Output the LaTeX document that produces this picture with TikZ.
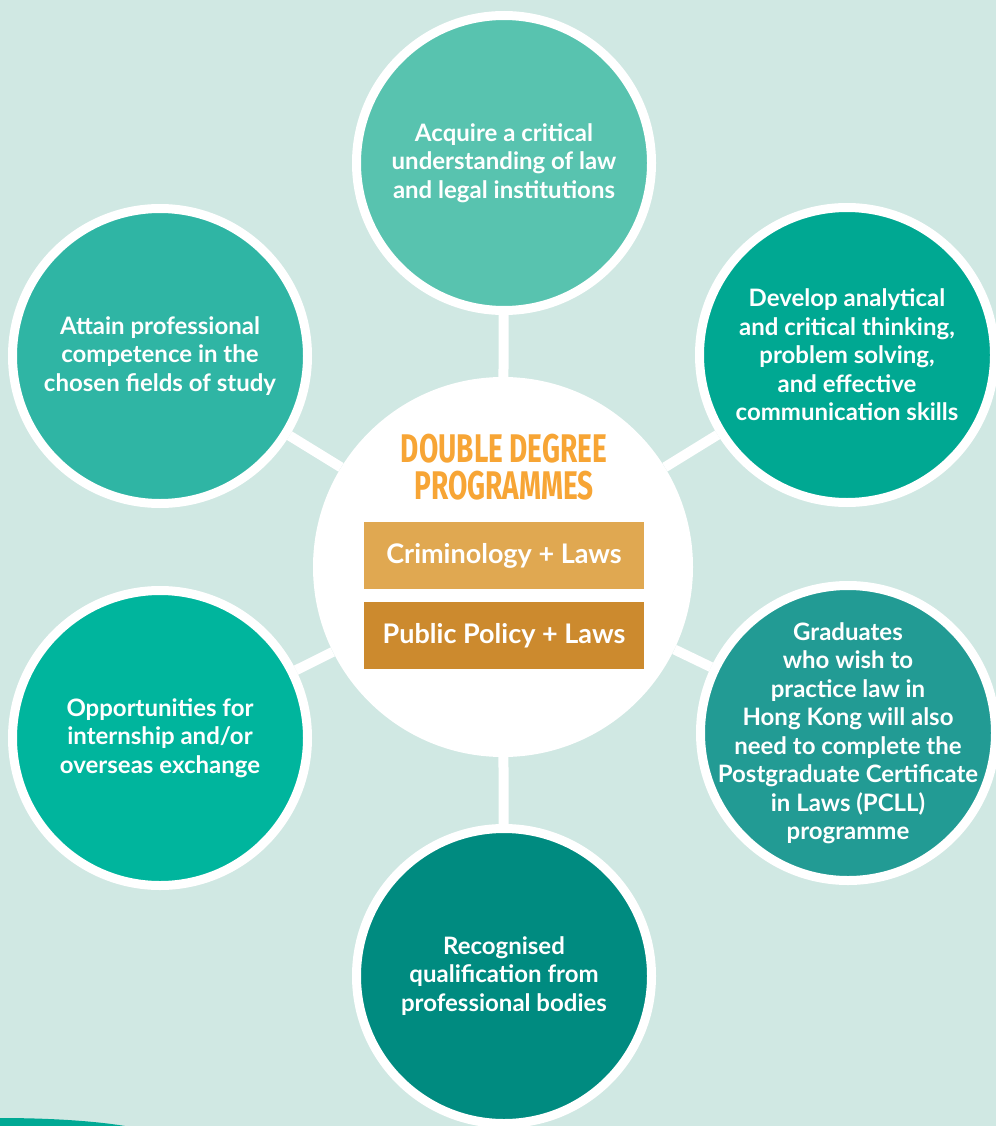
\documentclass[tikz,border=0pt]{standalone}
\usepackage{fontspec}
\setmainfont{Lato}
\newfontfamily\titlefont{Fira Sans}
\definecolor{bgc}{HTML}{D0E8E3}
\definecolor{cTop}{HTML}{58C3AF}
\definecolor{cUL}{HTML}{2FB5A4}
\definecolor{cUR}{HTML}{00A892}
\definecolor{cLL}{HTML}{00B59D}
\definecolor{cLR}{HTML}{229B94}
\definecolor{cBot}{HTML}{008B80}
\definecolor{cTitle}{HTML}{F7A535}
\definecolor{cBoxA}{HTML}{E0A851}
\definecolor{cBoxB}{HTML}{CC8A2E}
\definecolor{cWave}{HTML}{00A994}
\pgfdeclarelayer{bglayer}
\pgfdeclarelayer{linklayer}
\pgfsetlayers{bglayer,linklayer,main}
\begin{document}
\begin{tikzpicture}[x=1pt,y=-1pt,
  bub/.style={circle, draw=white, line width=9pt, minimum size=295pt, inner sep=-60pt,
    text=white, font=\bfseries\fontsize{24}{28.5}\selectfont, align=center},
  hub/.style={circle, fill=white, minimum size=380pt, inner sep=0pt},
  link/.style={draw=white, line width=10pt},
  prog/.style={minimum width=280pt, minimum height=67pt, inner sep=0pt,
    text=white, font=\bfseries\fontsize{27}{30}\selectfont},
  ttl/.style={text=cTitle, font=\titlefont\bfseries\fontsize{40}{37.5}\selectfont, align=center, inner sep=0pt}]
\begin{pgfonlayer}{bglayer}
  \fill[bgc] (0,0) rectangle (996,1126);
  \fill[cWave] (0,1118) .. controls (50,1118) and (95,1121) .. (125,1126) -- (0,1126) -- cycle;
\end{pgfonlayer}
\useasboundingbox (0,0) rectangle (996,1126);

\node[hub] (ctr) at (503,567) {};
\node[bub, fill=cTop] (top) at (504,163) {Acquire a critical\\understanding of law\\and legal institutions};
\node[bub, fill=cUL] (ul) at (160,356) {Attain professional\\competence in the\\chosen fields of study};
\node[bub, fill=cUR] (ur) at (847,355) {Develop analytical\\and critical thinking,\\problem solving,\\and effective\\communication skills};
\node[bub, fill=cLL] (ll) at (160,738) {Opportunities for\\internship and/or\\overseas exchange};
\node[bub, fill=cLR] (lr) at (848,733) {Graduates\\who wish to\\practice law in\\Hong Kong will also\\need to complete the\\Postgraduate Certificate\\in Laws (PCLL)\\programme};
\node[bub, fill=cBot] (bot) at (504,976) {Recognised\\qualification from\\professional bodies};

\node[ttl] (title) at (504,467) {\scalebox{0.70}[1]{DOUBLE DEGREE}\\\scalebox{0.70}[1]{PROGRAMMES}};
\node[prog, fill=cBoxA] (crim) at (504,555.5) {Criminology + Laws};
\node[prog, fill=cBoxB] (pub) at (504,635.5) {Public Policy + Laws};

\begin{pgfonlayer}{linklayer}
  \draw[link] (ctr) -- (top);
  \draw[link] (ctr) -- (ul);
  \draw[link] (ctr) -- (ur);
  \draw[link] (ctr) -- (ll);
  \draw[link] (ctr) -- (lr);
  \draw[link] (ctr) -- (bot);
\end{pgfonlayer}
\end{tikzpicture}
\end{document}
